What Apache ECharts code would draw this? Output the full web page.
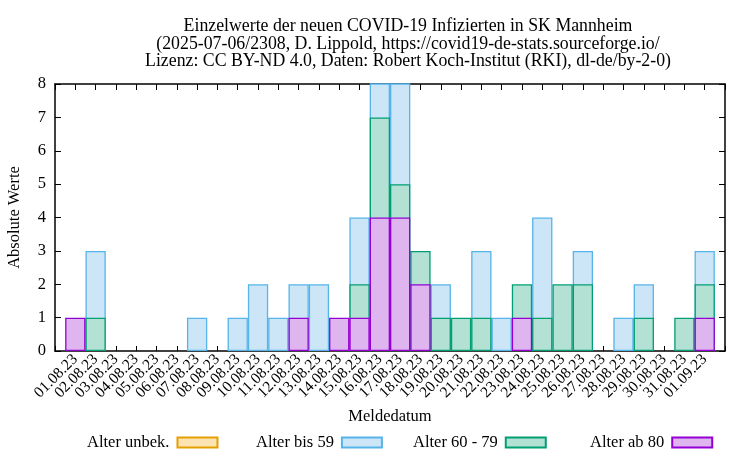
<!DOCTYPE html>
<html>
<head>
<meta charset="utf-8">
<script src="https://cdn.jsdelivr.net/npm/echarts@6/dist/echarts.min.js"></script>
<style>
  html, body { margin: 0; padding: 0; background: #fff; }
  #main { width: 750px; height: 450px; }
</style>
</head>
<body>
<div id="main"></div>
<script>
// Meldedaten 01.08.23 - 01.09.23
var dates = ['01.08.23','02.08.23','03.08.23','04.08.23','05.08.23','06.08.23','07.08.23','08.08.23',
  '09.08.23','10.08.23','11.08.23','12.08.23','13.08.23','14.08.23','15.08.23','16.08.23',
  '17.08.23','18.08.23','19.08.23','20.08.23','21.08.23','22.08.23','23.08.23','24.08.23',
  '25.08.23','26.08.23','27.08.23','28.08.23','29.08.23','30.08.23','31.08.23','01.09.23'];
// Fälle je Altersgruppe (0 = keine)
var ab80    = [1,0,0,0,0,0,0,0,0,0,0,1,0,1,1,4,4,2,0,0,0,0,1,0,0,0,0,0,0,0,0,1];
var alt6079 = [0,1,0,0,0,0,0,0,0,0,0,0,0,0,1,3,1,1,1,1,1,0,1,1,2,2,0,0,1,0,1,1];
var bis59   = [0,2,0,0,0,0,1,0,1,2,1,1,2,0,2,2,4,0,1,0,2,1,0,3,0,1,0,1,1,0,0,1];
var unbek   = [];
var yTicks  = [0,1,2,3,4,5,6,7,8];

var serif = 'Liberation Serif';

// gnuplot-Stil: Balken übereinander gezeichnet, jeweils von 0 bis zur Summe
function tops(groups) {
  var own = groups[groups.length - 1];
  return own.map(function (v, i) {
    if (!(v > 0)) return [i, null];
    var s = 0;
    groups.forEach(function (g) { s += g[i]; });
    return [i, s];
  });
}

var chart = echarts.init(document.getElementById('main'));

function bar(name, data, fill, line) {
  return {
    name: name, type: 'bar', xAxisIndex: 0, yAxisIndex: 0,
    data: data, barWidth: 20.3, barGap: '-100%', clip: true,
    itemStyle: { color: fill, borderColor: line, borderWidth: 1.3 },
    emphasis: { disabled: true },
    animation: false
  };
}

function legendAt(name, left) {
  return {
    data: [name], left: left, top: 429, align: 'right', icon: 'rect',
    itemWidth: 40, itemHeight: 10, itemGap: 0,
    textStyle: { fontFamily: serif, fontSize: 16.5, color: '#000', padding: [0, 3, 0, 0] },
    selectedMode: false
  };
}

var tickStyle = { color: '#000', width: 1 };

chart.setOption({
  animation: false,
  textStyle: { fontFamily: serif },
  grid: { left: 55, right: 25, top: 84, bottom: 99, outerBoundsMode: 'none', containLabel: false },
  graphic: [{
    type: 'text', x: 408, y: 18,
    style: {
      text: 'Einzelwerte der neuen COVID-19 Infizierten in SK Mannheim\n' +
            '(2025-07-06/2308, D. Lippold, https://covid19-de-stats.sourceforge.io/\n' +
            'Lizenz: CC BY-ND 4.0, Daten: Robert Koch-Institut (RKI), dl-de/by-2-0)',
      font: '17.8px "Liberation Serif"', fill: '#000', align: 'center', lineHeight: 17.5
    }
  }],
  legend: [
    legendAt('Alter unbek.', 82),
    legendAt('Alter bis 59', 251),
    legendAt('Alter 60 - 79', 408),
    legendAt('Alter ab 80', 585)
  ],
  xAxis: [{
    type: 'value', min: -1, max: 32, interval: 1, position: 'bottom',
    name: 'Meldedatum', nameLocation: 'middle', nameGap: 56,
    nameTextStyle: { fontFamily: serif, fontSize: 16.5, color: '#000' },
    axisLine: { onZero: false, lineStyle: { color: '#000', width: 1.5 } },
    axisTick: { inside: true, length: 5, lineStyle: tickStyle },
    axisLabel: {
      rotate: 45, margin: 6, fontFamily: serif, fontSize: 15.5, color: '#000',
      formatter: function (v) { return dates[v] || ''; }
    },
    splitLine: { show: false }
  }, {
    type: 'value', min: -1, max: 32, interval: 1, position: 'top',
    axisLine: { onZero: false, lineStyle: { color: '#000', width: 1.5 } },
    axisTick: { inside: true, length: 6, lineStyle: tickStyle },
    axisLabel: { show: false },
    splitLine: { show: false }
  }],
  yAxis: [{
    type: 'value', min: 0, max: 8, interval: 1, position: 'left',
    name: 'Absolute Werte', nameLocation: 'middle', nameGap: 32,
    nameTextStyle: { fontFamily: serif, fontSize: 16.5, color: '#000' },
    axisLine: { show: true, onZero: false, lineStyle: { color: '#000', width: 1.5 } },
    axisTick: { show: true, inside: true, length: 6, lineStyle: tickStyle },
    axisLabel: {
      margin: 9, fontFamily: serif, fontSize: 16.5, color: '#000',
      formatter: function (v) { return yTicks.indexOf(v) >= 0 ? String(v) : ''; }
    },
    splitLine: { show: false }
  }, {
    type: 'value', min: 0, max: 8, interval: 1, position: 'right',
    axisLine: { show: true, onZero: false, lineStyle: { color: '#000', width: 1.5 } },
    axisTick: { show: true, inside: true, length: 6, lineStyle: tickStyle },
    axisLabel: { show: false },
    splitLine: { show: false }
  }],
  series: [
    bar('Alter unbek.', unbek, '#fbe3b2', '#e69f00'),
    bar('Alter bis 59', tops([ab80, alt6079, bis59]), '#cce6f7', '#56b4e9'),
    bar('Alter 60 - 79', tops([ab80, alt6079]), '#b3e2d5', '#009e73'),
    bar('Alter ab 80', tops([ab80]), '#dfb5f0', '#9400d3')
  ]
});
</script>
</body>
</html>
